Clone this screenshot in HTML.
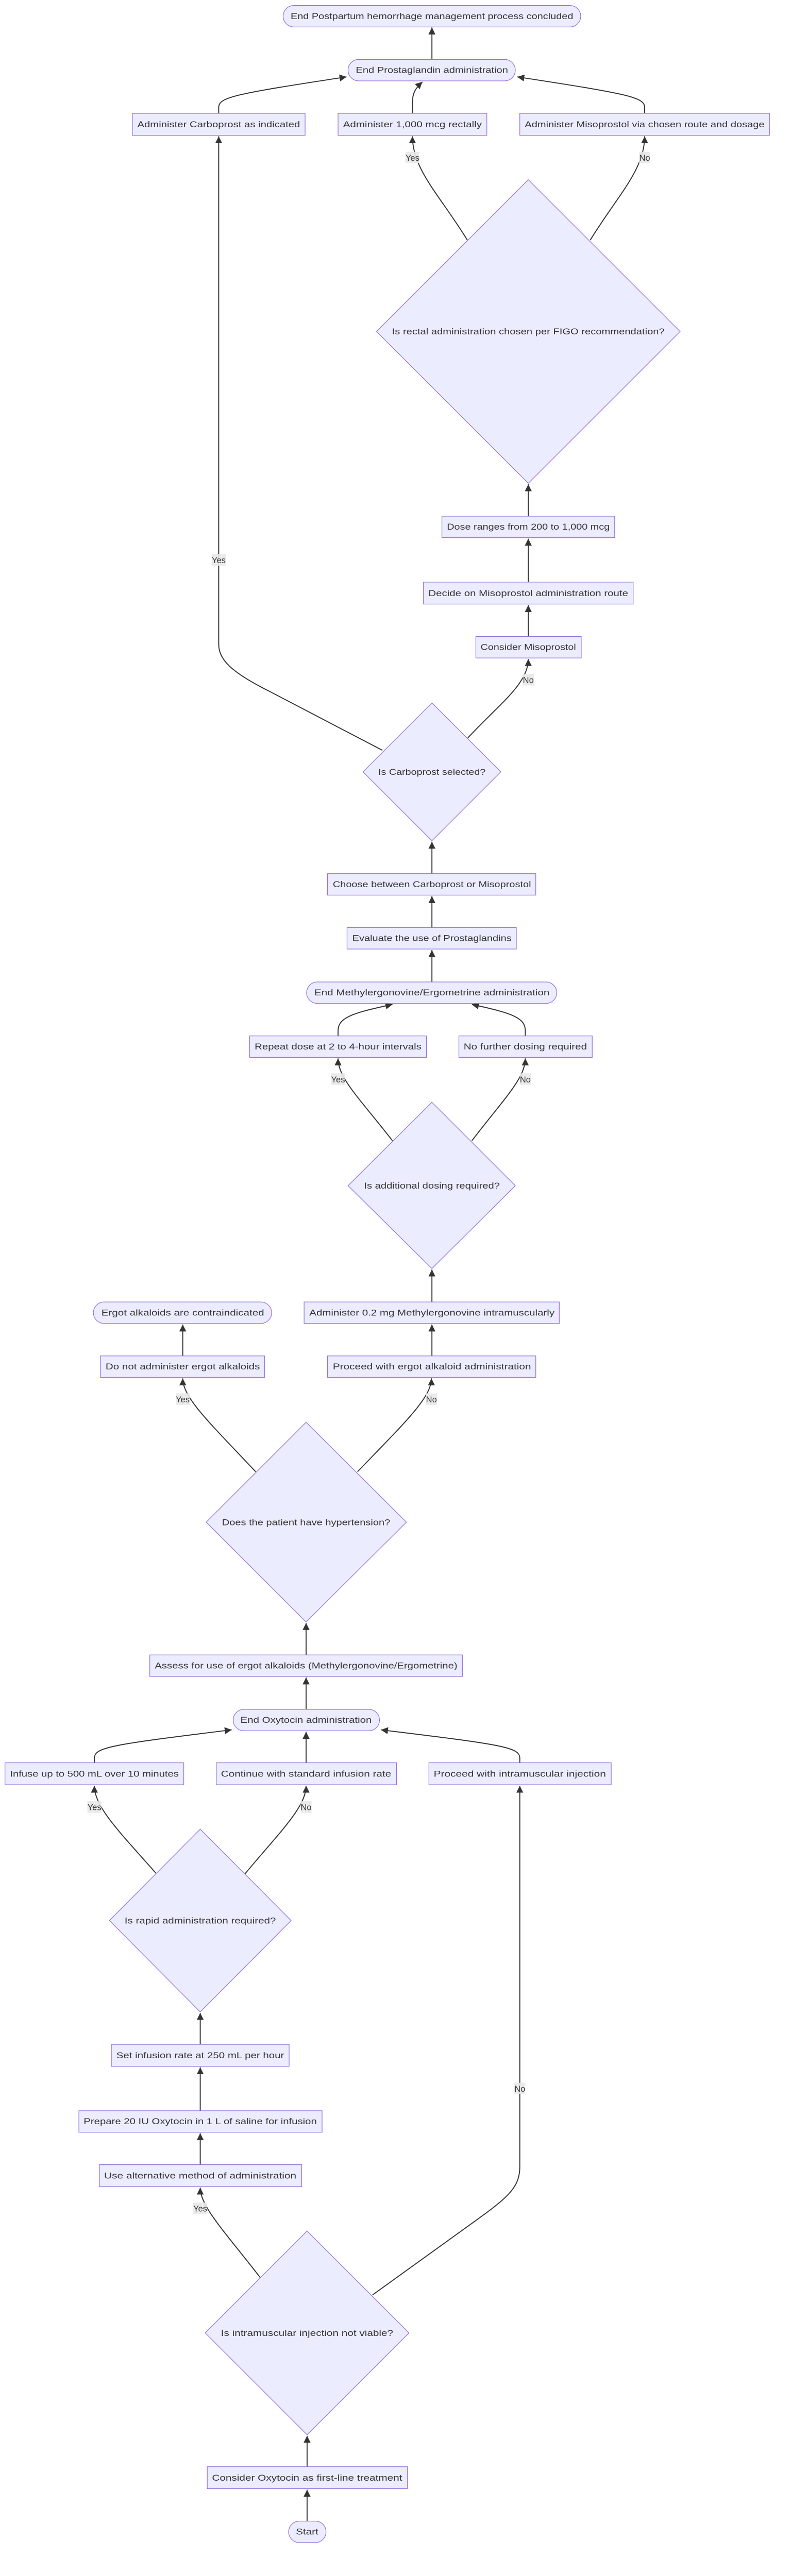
<!DOCTYPE html>
<html><head><meta charset="utf-8"><style>
html,body{margin:0;padding:0;background:#fff;width:1568px;height:5158px;overflow:hidden;}
svg{display:block;position:absolute;left:0;top:0;}
text{font-family:"Liberation Sans",sans-serif;font-size:17px;fill:#333;}
.n{fill:#ECECFF;stroke:#9370DB;stroke-width:1.3;}
.e{fill:none;stroke:#333;stroke-width:2;}
.lb{fill:#e8e8e8;opacity:0.9;}
</style></head><body>
<svg width="1568" height="5158" viewBox="0 0 1618 5323" preserveAspectRatio="xMinYMin meet" xmlns="http://www.w3.org/2000/svg">
<defs>
<marker id="a" viewBox="0 0 10 10" refX="10" refY="5" markerWidth="14" markerHeight="14" markerUnits="userSpaceOnUse" orient="auto">
<path d="M0,0 L10,5 L0,10 z" fill="#333"/>
</marker>
</defs>
<g class="edges">
<path class="e" marker-end="url(#a)" d="M865 118 L865 55"/>
<path class="e" marker-end="url(#a)" d="M438 227 L438 215 C438 195 470 188 694 154"/>
<path class="e" marker-end="url(#a)" d="M826 227 L826 205 C826 185 833 176 846 164"/>
<path class="e" marker-end="url(#a)" d="M1291 227 L1291 215 C1291 195 1259 188 1036 154"/>
<path class="e" marker-end="url(#a)" d="M936 481 C880 390 826 340 826 273"/>
<path class="e" marker-end="url(#a)" d="M1182 481 C1238 390 1291 340 1291 273"/>
<path class="e" marker-end="url(#a)" d="M1058 1034 L1058 970"/>
<path class="e" marker-end="url(#a)" d="M1058 1166 L1058 1079"/>
<path class="e" marker-end="url(#a)" d="M1058 1275 L1058 1212"/>
<path class="e" marker-end="url(#a)" d="M937 1478 C1000 1410 1058 1370 1058 1320"/>
<path class="e" marker-end="url(#a)" d="M766 1503 L540 1385 C460 1345 438 1320 438 1290 L438 273"/>
<path class="e" marker-end="url(#a)" d="M865 1750 L865 1686"/>
<path class="e" marker-end="url(#a)" d="M865 1858 L865 1795"/>
<path class="e" marker-end="url(#a)" d="M865 1967 L865 1903"/>
<path class="e" marker-end="url(#a)" d="M677 2075 L677 2065 C677 2040 700 2030 786 2012"/>
<path class="e" marker-end="url(#a)" d="M1052 2075 L1052 2065 C1052 2040 1030 2030 945 2012"/>
<path class="e" marker-end="url(#a)" d="M786 2285 C720 2200 677 2160 677 2120"/>
<path class="e" marker-end="url(#a)" d="M945 2285 C1010 2200 1052 2160 1052 2120"/>
<path class="e" marker-end="url(#a)" d="M865 2608 L865 2543"/>
<path class="e" marker-end="url(#a)" d="M865 2716 L865 2653"/>
<path class="e" marker-end="url(#a)" d="M366 2716 L366 2653"/>
<path class="e" marker-end="url(#a)" d="M512 2948 C420 2850 366 2800 366 2761"/>
<path class="e" marker-end="url(#a)" d="M716 2948 C810 2850 864 2800 864 2761"/>
<path class="e" marker-end="url(#a)" d="M613 3315 L613 3251"/>
<path class="e" marker-end="url(#a)" d="M613 3424 L613 3360"/>
<path class="e" marker-end="url(#a)" d="M189 3532 L189 3522 C189 3500 220 3495 464 3465"/>
<path class="e" marker-end="url(#a)" d="M613 3532 L613 3469"/>
<path class="e" marker-end="url(#a)" d="M1041 3532 L1041 3522 C1041 3500 1010 3495 763 3465"/>
<path class="e" marker-end="url(#a)" d="M313 3753 C240 3670 189 3620 189 3577"/>
<path class="e" marker-end="url(#a)" d="M491 3753 C560 3670 613 3620 613 3577"/>
<path class="e" marker-end="url(#a)" d="M401 4095 L401 4032"/>
<path class="e" marker-end="url(#a)" d="M401 4228 L401 4141"/>
<path class="e" marker-end="url(#a)" d="M401 4336 L401 4273"/>
<path class="e" marker-end="url(#a)" d="M521 4562 C450 4470 401 4420 401 4382"/>
<path class="e" marker-end="url(#a)" d="M746 4597 L950 4450 C1020 4400 1041 4380 1041 4340 L1041 3577"/>
<path class="e" marker-end="url(#a)" d="M615 4941 L615 4879"/>
<path class="e" marker-end="url(#a)" d="M615 5050 L615 4987"/>
</g>
<g>
<rect class="lb" x="812" y="304" width="28" height="23"/><text x="826" y="322" text-anchor="middle">Yes</text>
<rect class="lb" x="1280" y="304" width="22" height="23"/><text x="1291" y="322" text-anchor="middle">No</text>
<rect class="lb" x="424" y="1110" width="28" height="23"/><text x="438" y="1128" text-anchor="middle">Yes</text>
<rect class="lb" x="1047" y="1350" width="22" height="23"/><text x="1058" y="1368" text-anchor="middle">No</text>
<rect class="lb" x="663" y="2150" width="28" height="23"/><text x="677" y="2168" text-anchor="middle">Yes</text>
<rect class="lb" x="1041" y="2150" width="22" height="23"/><text x="1052" y="2168" text-anchor="middle">No</text>
<rect class="lb" x="352" y="2791" width="28" height="23"/><text x="366" y="2809" text-anchor="middle">Yes</text>
<rect class="lb" x="853" y="2791" width="22" height="23"/><text x="864" y="2809" text-anchor="middle">No</text>
<rect class="lb" x="175" y="3608" width="28" height="23"/><text x="189" y="3626" text-anchor="middle">Yes</text>
<rect class="lb" x="602" y="3608" width="22" height="23"/><text x="613" y="3626" text-anchor="middle">No</text>
<rect class="lb" x="387" y="4412" width="28" height="23"/><text x="401" y="4430" text-anchor="middle">Yes</text>
<rect class="lb" x="1030" y="4172" width="22" height="23"/><text x="1041" y="4190" text-anchor="middle">No</text>
</g>
<g>
<rect class="n" x="567" y="11" width="596" height="43" rx="21.5"/><text x="865" y="38" text-anchor="middle" textLength="566" lengthAdjust="spacingAndGlyphs">End Postpartum hemorrhage management process concluded</text>
<rect class="n" x="697" y="119" width="335" height="43" rx="21.5"/><text x="865" y="146" text-anchor="middle" textLength="305" lengthAdjust="spacingAndGlyphs">End Prostaglandin administration</text>
<rect class="n" x="265" y="227" width="346" height="44"/><text x="438" y="255" text-anchor="middle" textLength="326" lengthAdjust="spacingAndGlyphs">Administer Carboprost as indicated</text>
<rect class="n" x="677" y="227" width="298" height="44"/><text x="826" y="255" text-anchor="middle" textLength="278" lengthAdjust="spacingAndGlyphs">Administer 1,000 mcg rectally</text>
<rect class="n" x="1041" y="227" width="500" height="44"/><text x="1291" y="255" text-anchor="middle" textLength="480" lengthAdjust="spacingAndGlyphs">Administer Misoprostol via chosen route and dosage</text>
<polygon class="n" points="1058,360 1362,664 1058,968 754,664"/><text x="1058" y="670" text-anchor="middle" textLength="546" lengthAdjust="spacingAndGlyphs">Is rectal administration chosen per FIGO recommendation?</text>
<rect class="n" x="885" y="1034" width="346" height="43"/><text x="1058" y="1061" text-anchor="middle" textLength="326" lengthAdjust="spacingAndGlyphs">Dose ranges from 200 to 1,000 mcg</text>
<rect class="n" x="848" y="1166" width="420" height="44"/><text x="1058" y="1194" text-anchor="middle" textLength="400" lengthAdjust="spacingAndGlyphs">Decide on Misoprostol administration route</text>
<rect class="n" x="953" y="1275" width="211" height="43"/><text x="1058" y="1302" text-anchor="middle" textLength="191" lengthAdjust="spacingAndGlyphs">Consider Misoprostol</text>
<polygon class="n" points="865,1408 1003,1546 865,1684 727,1546"/><text x="865" y="1552" text-anchor="middle" textLength="215" lengthAdjust="spacingAndGlyphs">Is Carboprost selected?</text>
<rect class="n" x="656" y="1750" width="417" height="43"/><text x="865" y="1777" text-anchor="middle" textLength="397" lengthAdjust="spacingAndGlyphs">Choose between Carboprost or Misoprostol</text>
<rect class="n" x="695" y="1858" width="339" height="43"/><text x="865" y="1885" text-anchor="middle" textLength="319" lengthAdjust="spacingAndGlyphs">Evaluate the use of Prostaglandins</text>
<rect class="n" x="614" y="1967" width="501" height="43" rx="21.5"/><text x="865" y="1994" text-anchor="middle" textLength="471" lengthAdjust="spacingAndGlyphs">End Methylergonovine/Ergometrine administration</text>
<rect class="n" x="500" y="2075" width="354" height="43"/><text x="677" y="2102" text-anchor="middle" textLength="334" lengthAdjust="spacingAndGlyphs">Repeat dose at 2 to 4-hour intervals</text>
<rect class="n" x="919" y="2075" width="267" height="43"/><text x="1052" y="2102" text-anchor="middle" textLength="247" lengthAdjust="spacingAndGlyphs">No further dosing required</text>
<polygon class="n" points="865,2208 1032,2375 865,2541 697,2375"/><text x="865" y="2381" text-anchor="middle" textLength="272" lengthAdjust="spacingAndGlyphs">Is additional dosing required?</text>
<rect class="n" x="187" y="2608" width="357" height="43" rx="21.5"/><text x="366" y="2635" text-anchor="middle" textLength="326" lengthAdjust="spacingAndGlyphs">Ergot alkaloids are contraindicated</text>
<rect class="n" x="609" y="2608" width="511" height="43"/><text x="865" y="2635" text-anchor="middle" textLength="491" lengthAdjust="spacingAndGlyphs">Administer 0.2 mg Methylergonovine intramuscularly</text>
<rect class="n" x="201" y="2716" width="329" height="43"/><text x="366" y="2743" text-anchor="middle" textLength="309" lengthAdjust="spacingAndGlyphs">Do not administer ergot alkaloids</text>
<rect class="n" x="656" y="2716" width="417" height="43"/><text x="865" y="2743" text-anchor="middle" textLength="397" lengthAdjust="spacingAndGlyphs">Proceed with ergot alkaloid administration</text>
<polygon class="n" points="613,2849 814,3049 613,3249 413,3049"/><text x="613" y="3055" text-anchor="middle" textLength="337" lengthAdjust="spacingAndGlyphs">Does the patient have hypertension?</text>
<rect class="n" x="300" y="3315" width="626" height="43"/><text x="613" y="3342" text-anchor="middle" textLength="606" lengthAdjust="spacingAndGlyphs">Assess for use of ergot alkaloids (Methylergonovine/Ergometrine)</text>
<rect class="n" x="467" y="3424" width="293" height="43" rx="21.5"/><text x="613" y="3451" text-anchor="middle" textLength="263" lengthAdjust="spacingAndGlyphs">End Oxytocin administration</text>
<rect class="n" x="10" y="3531" width="358" height="44"/><text x="189" y="3559" text-anchor="middle" textLength="338" lengthAdjust="spacingAndGlyphs">Infuse up to 500 mL over 10 minutes</text>
<rect class="n" x="433" y="3531" width="361" height="44"/><text x="613" y="3559" text-anchor="middle" textLength="341" lengthAdjust="spacingAndGlyphs">Continue with standard infusion rate</text>
<rect class="n" x="859" y="3531" width="365" height="44"/><text x="1041" y="3559" text-anchor="middle" textLength="345" lengthAdjust="spacingAndGlyphs">Proceed with intramuscular injection</text>
<polygon class="n" points="401,3664 583,3847 401,4030 219,3847"/><text x="401" y="3853" text-anchor="middle" textLength="303" lengthAdjust="spacingAndGlyphs">Is rapid administration required?</text>
<rect class="n" x="223" y="4095" width="356" height="44"/><text x="401" y="4123" text-anchor="middle" textLength="336" lengthAdjust="spacingAndGlyphs">Set infusion rate at 250 mL per hour</text>
<rect class="n" x="158" y="4228" width="487" height="43"/><text x="401" y="4255" text-anchor="middle" textLength="467" lengthAdjust="spacingAndGlyphs">Prepare 20 IU Oxytocin in 1 L of saline for infusion</text>
<rect class="n" x="199" y="4336" width="405" height="44"/><text x="401" y="4364" text-anchor="middle" textLength="385" lengthAdjust="spacingAndGlyphs">Use alternative method of administration</text>
<polygon class="n" points="615,4469 819,4673 615,4877 411,4673"/><text x="615" y="4679" text-anchor="middle" textLength="345" lengthAdjust="spacingAndGlyphs">Is intramuscular injection not viable?</text>
<rect class="n" x="415" y="4941" width="401" height="44"/><text x="615" y="4969" text-anchor="middle" textLength="381" lengthAdjust="spacingAndGlyphs">Consider Oxytocin as first-line treatment</text>
<rect class="n" x="578" y="5050" width="75" height="43" rx="21.5"/><text x="615" y="5077" text-anchor="middle" textLength="45" lengthAdjust="spacingAndGlyphs">Start</text>
</g>
</svg>
</body></html>
